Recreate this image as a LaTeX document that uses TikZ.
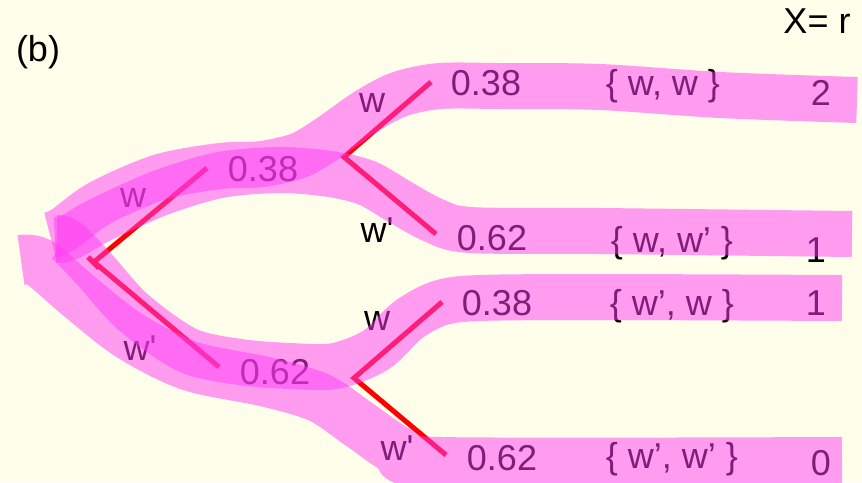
\documentclass[tikz,border=0pt]{standalone}
\usepackage{fontspec}
\setmainfont{Liberation Sans}[Ligatures=TeXOff]
\definecolor{bgcol}{RGB}{255,254,234}
\definecolor{bandcol}{RGB}{255,59,245}
\definecolor{branchcol}{RGB}{255,0,0}
\tikzset{
  band/.style={draw=bandcol, draw opacity=0.5, line width=46pt, line cap=butt, line join=round},
  branch/.style={draw=branchcol, line width=5pt, line cap=butt},
  lbl/.style={anchor=base, inner sep=0pt, font=\fontsize{36}{40}\selectfont, text=black},
}
\begin{document}
\begin{tikzpicture}[x=1pt,y=-1pt]
\fill[bgcol] (0,0) rectangle (862,482);
\useasboundingbox (0,0) rectangle (862,482);
% tree points
\coordinate (r) at (94,262);
\coordinate (a) at (207,168);
\coordinate (b) at (219,367);
\coordinate (c) at (344,157);
\coordinate (d) at (354,378);
\coordinate (aa) at (431,82);
\coordinate (ab) at (436,234);
\coordinate (ba) at (442,302);
\coordinate (bb) at (446,455);
\coordinate (t1) at (88,257);
\coordinate (t2) at (99,268);
% branches
\draw[branch] (r) -- (a);
\draw[branch] (r) -- (b);
\draw[branch] (t1) -- (t2);
\draw[branch, line join=miter] (aa) -- (c) -- (ab);
\draw[branch, line join=miter] (ba) -- (d) -- (bb);
% labels
\node[lbl] (lb) at (38,61) {(b)};
\node[lbl] (lx) at (817,33) {X= r};
\node[lbl] (l1) at (133,207) {w};
\node[lbl] (l2) at (140,360) {w'};
\node[lbl] (p1) at (263,181) {0.38};
\node[lbl] (p2) at (275,384) {0.62};
\node[lbl] (l3) at (372,112) {w};
\node[lbl] (l4) at (377,242) {w'};
\node[lbl] (p3) at (486,95) {0.38};
\node[lbl] (p4) at (492,250) {0.62};
\node[lbl] (l5) at (377,330) {w};
\node[lbl] (l6) at (397,460) {w'};
\node[lbl] (p5) at (497,315) {0.38};
\node[lbl] (p6) at (502,470) {0.62};
\node[lbl] (s1) at (663,95) {\{ w, w \}};
\node[lbl] (s2) at (672,252) {\{ w, w’ \}};
\node[lbl] (s3) at (672,315) {\{ w’, w \}};
\node[lbl] (s4) at (672,468) {\{ w’, w’ \}};
\node[lbl] (x1) at (821,105) {2};
\node[lbl] (x2) at (816,262) {1};
\node[lbl] (x3) at (816,315) {1};
\node[lbl] (x4) at (821,475) {0};
% highlighter bands
\draw[band] plot[smooth, tension=0.5] coordinates {(50,235) (64,229) (100,203) (160,177) (220,166) (262,164) (300,155) (330,137) (367,111) (400,94) (440,86) (500,86) (600,87) (720,95) (857,100)};
\draw[band] plot[smooth, tension=0.5] coordinates {(55,240) (70,237) (100,220) (160,193) (220,175) (280,170) (330,174) (367,183) (400,202) (433,220) (470,230) (600,231) (852,234)};
\draw[band, line width=50pt] plot[smooth, tension=0.5] coordinates {(21,260) (40,263) (80,297) (130,336) (190,366) (267,382) (320,398) (360,425) (400,452) (440,462) (842,462)};
\draw[band] plot[smooth, tension=0.5] coordinates {(57,238) (68,242) (95,270) (133,312) (187,350) (240,362) (290,366) (335,366) (376,350) (408,320) (440,303) (480,298) (600,297) (842,298)};
\end{tikzpicture}
\end{document}
